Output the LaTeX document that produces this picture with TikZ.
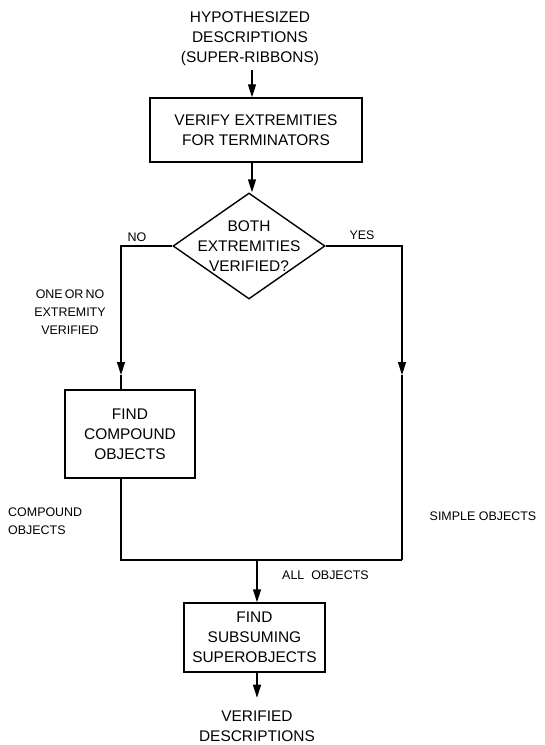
\documentclass[tikz,border=0pt]{standalone}
\usepackage{fontspec}
\setmainfont{Liberation Sans}
\usetikzlibrary{arrows.meta,shapes.geometric}
\tikzset{
  line/.style={line width=1.4bp, black},
  arr/.style={line, -{Triangle[length=13bp,width=8bp]}},
  box/.style={draw, line width=1.4bp, rectangle, inner sep=0pt, align=center,
    font=\fontsize{15.5}{20}\selectfont},
  big/.style={inner sep=0pt, align=center, font=\fontsize{15.5}{20}\selectfont},
  lab/.style={inner sep=0pt, align=center, font=\fontsize{12.5}{18}\selectfont},
}
\begin{document}
\begin{tikzpicture}[x=1bp,y=-1bp]
\useasboundingbox (0,0) rectangle (545,745);
% nodes
\node[big] (top) at (250,39) {HYPOTHESIZED\\DESCRIPTIONS\\(SUPER-RIBBONS)};
\node[box, minimum width=212bp, minimum height=64bp] (b1) at (256,130) {VERIFY EXTREMITIES\\FOR TERMINATORS};
\node[draw, line width=1.4bp, diamond, minimum width=152bp, minimum height=106bp, inner sep=0pt] (dia) at (249,246) {};
\node[big] (dtext) at (249,246) {BOTH\\EXTREMITIES\\VERIFIED?};
\node[box, minimum width=130bp, minimum height=88bp] (b2) at (130,434) {FIND\\COMPOUND\\OBJECTS};
\node[box, minimum width=141bp, minimum height=69bp] (b3) at (254.5,637.5) {FIND\\SUBSUMING\\SUPEROBJECTS};
\node[big] (bot) at (257,726) {VERIFIED\\DESCRIPTIONS};
% labels
\node[lab] (no) at (137,237) {NO};
\node[lab] (yes) at (362,235) {YES};
\node[lab] (onl) at (70,312) {ONE\,OR\,NO\\EXTREMITY\\VERIFIED};
\node[lab, align=left, anchor=west] (cpl) at (8,521) {COMPOUND\\OBJECTS};
\node[lab] (spl) at (483,516) {SIMPLE OBJECTS};
\node[lab, anchor=west] (all) at (282,575) {ALL\ \ OBJECTS};
% coordinates
\coordinate (nl) at (121,375);
\coordinate (nr) at (402,375);
\coordinate (cl) at (121,560);
\coordinate (cr) at (402,560);
\coordinate (cm) at (257,560);
% connectors
\draw[arr] (top.south -| 252,0) ++(0,4) coordinate (t0) -- (t0 |- b1.north);
\draw[arr] (b1.south -| 252,0) -- (dia.north -| 252,0);
\draw[arr] (dia.west) -| (nl);
\draw[line] (nl) -- (nl |- b2.north);
\draw[arr] (dia.east) -| (nr);
\draw[line] (nr) -- (cr);
\draw[line] (cl |- b2.south) -- (cl) -- (cr);
\draw[arr] (cm) -- (cm |- b3.north);
\draw[arr] (b3.south -| cm) -- ++(0,25);
\end{tikzpicture}
\end{document}
